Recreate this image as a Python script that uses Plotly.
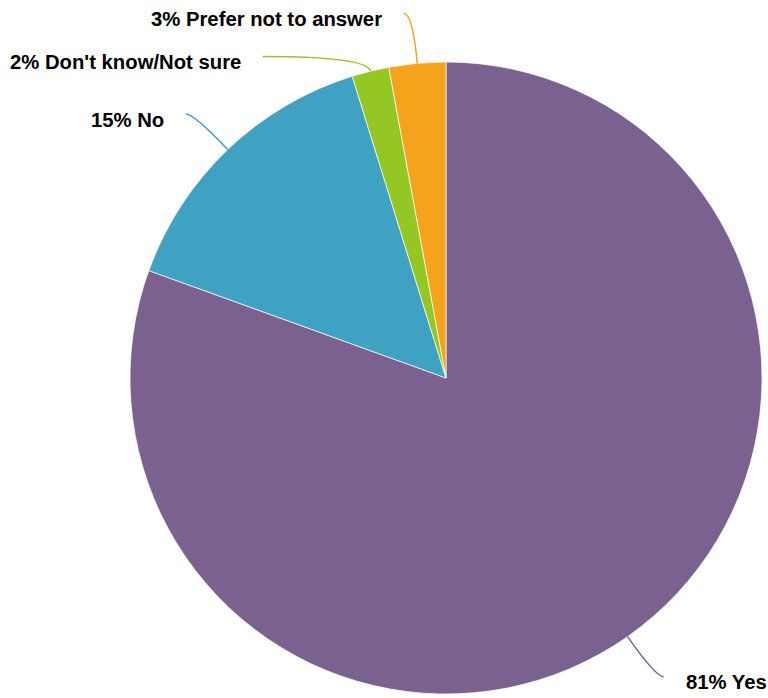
import math
import plotly.graph_objects as go

# ---- data ----
categories = ["Yes", "No", "Don't know/Not sure", "Prefer not to answer"]
values = [80.6, 14.7, 1.9, 2.9]
colors = ["#7B6190", "#3FA2C2", "#95C724", "#F4A31A"]

# ---- layout config (pixels) ----
W, H = 768, 698
CX, CY, R = 446, 378, 316
# leader line: radial extension and horizontal run per slice
lead_radial = [49, 49, 15, 50]
lead_horiz = [8, -8, -104, -9]
label_gap = 20
label_dy = 5.5

def px(x):
    return x / W

def py(y):
    return 1 - y / H

fig = go.Figure()
fig.add_trace(go.Pie(
    labels=categories,
    values=values,
    marker=dict(colors=colors, line=dict(color="white", width=0.7)),
    sort=False,
    direction="clockwise",
    rotation=0,
    textinfo="none",
    hoverinfo="label+percent",
    showlegend=False,
    domain=dict(x=[px(CX - R), px(CX + R)], y=[py(CY + R), py(CY - R)]),
))

total = sum(values)
cum = 0.0
shapes = []
annotations = []
for i, (cat, v) in enumerate(zip(categories, values)):
    mid = (cum + v / 2) / total * 2 * math.pi
    cum += v
    dx, dy = math.sin(mid), -math.cos(mid)
    x0, y0 = CX + R * dx, CY + R * dy
    x1, y1 = CX + (R + lead_radial[i]) * dx, CY + (R + lead_radial[i]) * dy
    x2, y2 = x1 + lead_horiz[i], y1
    path = (f"M {px(x0)},{py(y0)} Q {px(x1)},{py(y1)} {px(x2)},{py(y2)}")
    shapes.append(dict(type="path", xref="paper", yref="paper", path=path,
                       line=dict(color=colors[i], width=1.5)))
    right = lead_horiz[i] > 0
    tx = x2 + label_gap if right else x2 - label_gap
    annotations.append(dict(
        x=px(tx), y=py(y2 + label_dy), xref="paper", yref="paper",
        text=f"{round(v / total * 100)}% {cat}", showarrow=False,
        xanchor="left" if right else "right", yanchor="middle",
        font=dict(family="Liberation Sans, Arial, sans-serif", size=20.3,
                  color="#000000", weight="bold"),
    ))

fig.update_layout(
    width=W, height=H,
    margin=dict(l=0, r=0, t=0, b=0),
    paper_bgcolor="white",
    plot_bgcolor="white",
    shapes=shapes,
    annotations=annotations,
)

fig.write_html(
    "out.html",
    config={"displayModeBar": False},
    post_script="document.body.style.margin='0';document.body.style.overflow='hidden';",
)
